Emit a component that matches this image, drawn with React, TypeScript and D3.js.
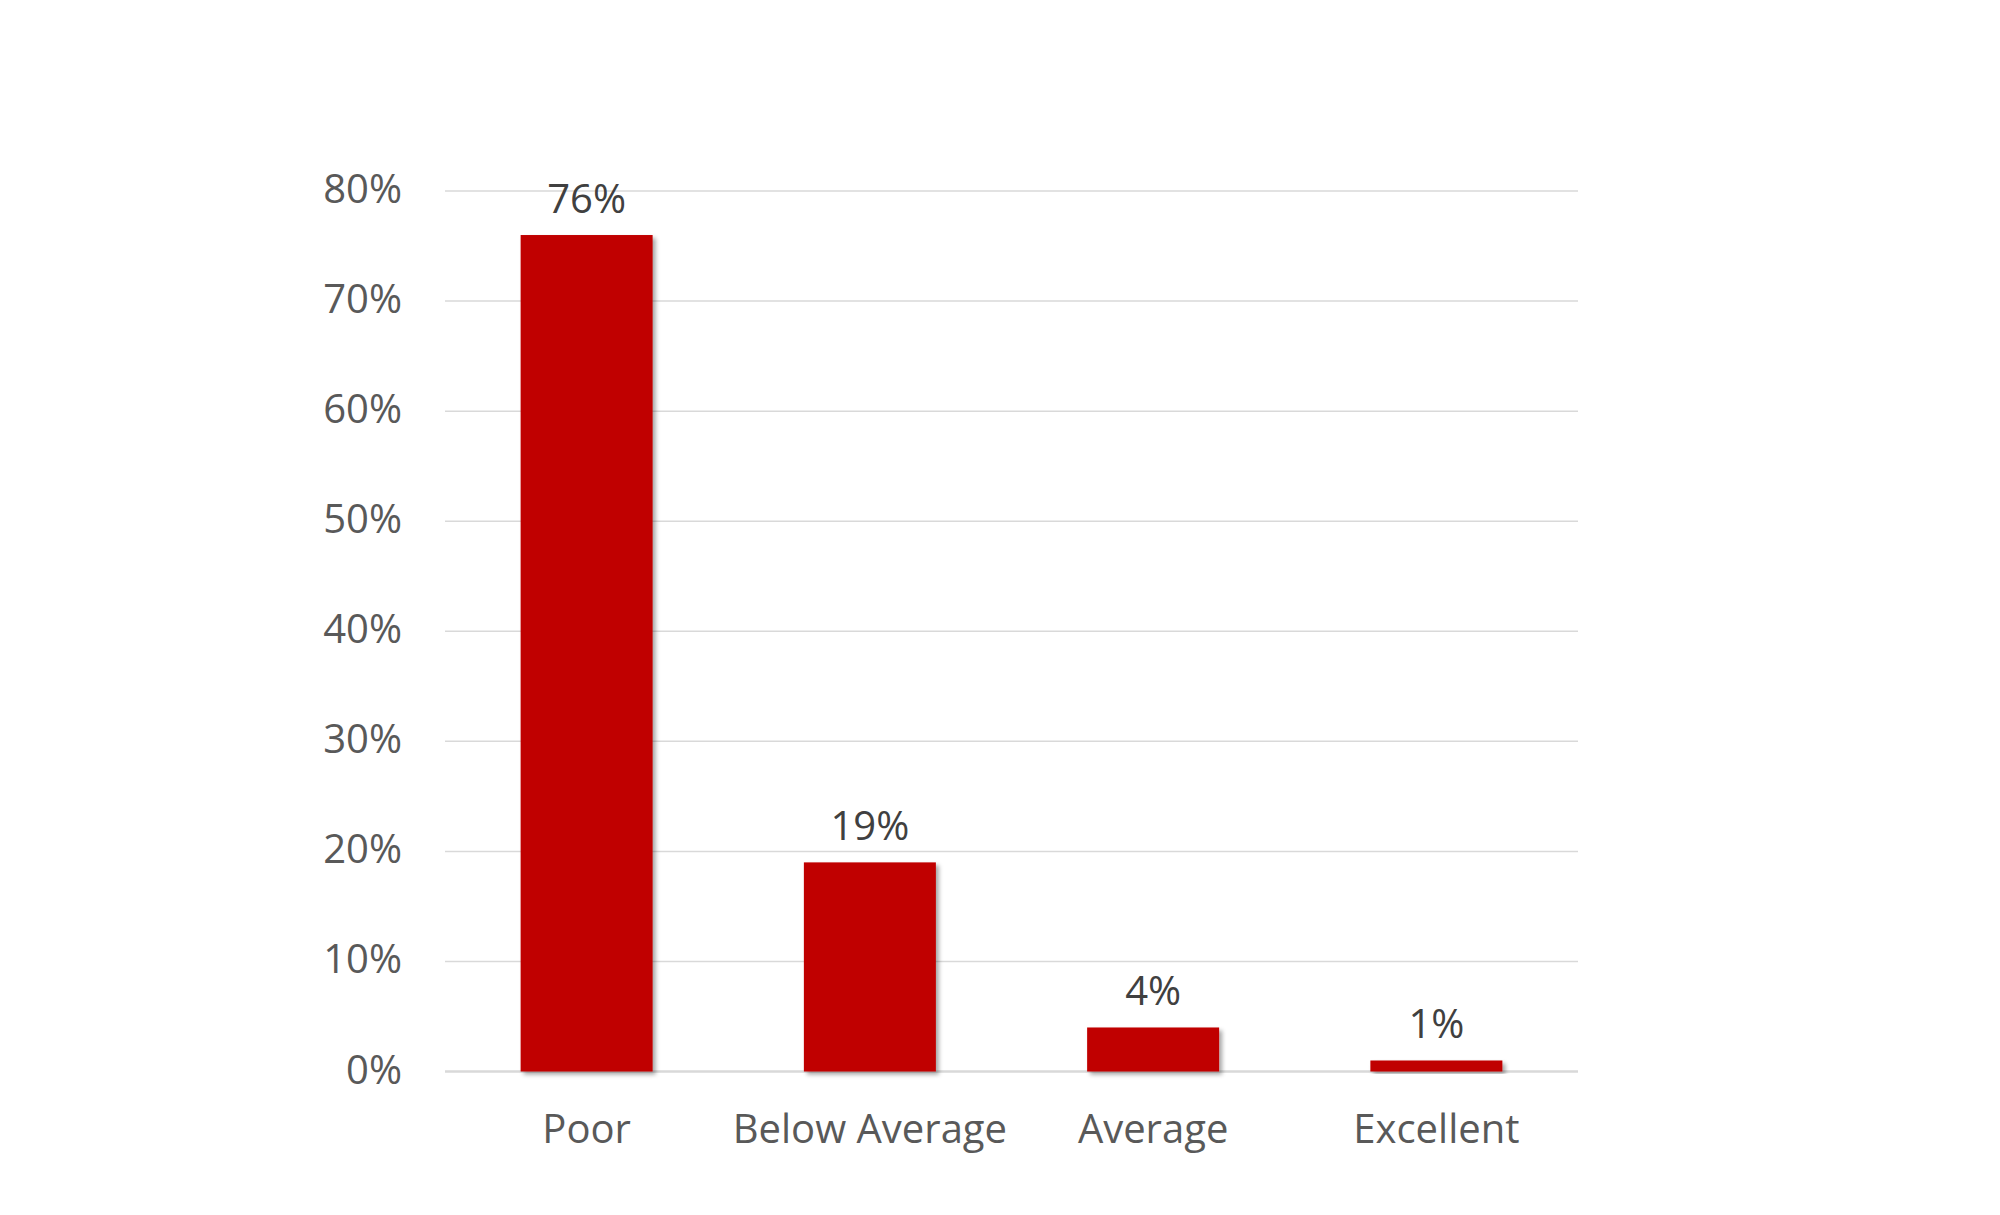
import { useEffect, useRef } from "react";
import * as d3 from "d3";

const categories = ["Poor", "Below Average", "Average", "Excellent"];
const values = [0.76, 0.19, 0.04, 0.01];
const yTicks = [0, 0.1, 0.2, 0.3, 0.4, 0.5, 0.6, 0.7, 0.8];

const WIDTH = 2000;
const HEIGHT = 1215;

export default function App() {
  const svgRef = useRef<SVGSVGElement>(null);

  useEffect(() => {
    if (!svgRef.current) return;
    const svg = d3.select(svgRef.current);
    svg.selectAll("*").remove();

    const left = 445;
    const right = 1578;
    const top = 191;
    const bottom = 1071.5;
    const font = "'Open Sans', 'Liberation Sans', sans-serif";

    const x = d3
      .scaleBand<string>()
      .domain(categories)
      .range([left, right])
      .paddingInner(0.534)
      .paddingOuter(0.267);

    const y = d3.scaleLinear().domain([0, 0.8]).range([bottom, top]);

    // Shadow filter
    const defs = svg.append("defs");
    const filter = defs
      .append("filter")
      .attr("id", "shadow")
      .attr("x", "-10%")
      .attr("y", "-10%")
      .attr("width", "130%")
      .attr("height", "130%");
    filter
      .append("feDropShadow")
      .attr("dx", 3)
      .attr("dy", 3)
      .attr("stdDeviation", 2)
      .attr("flood-color", "#000")
      .attr("flood-opacity", 0.35);

    // Gridlines
    svg
      .append("g")
      .selectAll("line")
      .data(yTicks)
      .enter()
      .append("line")
      .attr("x1", left)
      .attr("x2", right)
      .attr("y1", (d) => y(d))
      .attr("y2", (d) => y(d))
      .attr("stroke", "#d9d9d9")
      .attr("stroke-width", (d) => (d === 0 ? 2.5 : 1.5));

    // Y tick labels
    svg
      .append("g")
      .selectAll("text")
      .data(yTicks)
      .enter()
      .append("text")
      .attr("x", 402)
      .attr("y", (d) => y(d))
      .attr("dy", "0.3em")
      .attr("text-anchor", "end")
      .attr("font-family", font)
      .attr("font-size", "40px")
      .attr("fill", "#595959")
      .text((d) => d3.format(".0%")(d));

    // Bars
    svg
      .append("g")
      .selectAll("rect")
      .data(values)
      .enter()
      .append("rect")
      .attr("x", (_, i) => x(categories[i]) ?? 0)
      .attr("y", (d) => y(d))
      .attr("width", x.bandwidth())
      .attr("height", (d) => bottom - y(d))
      .attr("fill", "#c00000")
      .attr("filter", "url(#shadow)");

    // Data labels
    svg
      .append("g")
      .selectAll("text")
      .data(values)
      .enter()
      .append("text")
      .attr("x", (_, i) => (x(categories[i]) ?? 0) + x.bandwidth() / 2)
      .attr("y", (d) => y(d) - 22)
      .attr("text-anchor", "middle")
      .attr("font-family", font)
      .attr("font-size", "40px")
      .attr("fill", "#404040")
      .text((d) => d3.format(".0%")(d));

    // X labels
    svg
      .append("g")
      .selectAll("text")
      .data(categories)
      .enter()
      .append("text")
      .attr("x", (d) => (x(d) ?? 0) + x.bandwidth() / 2)
      .attr("y", 1143)
      .attr("text-anchor", "middle")
      .attr("font-family", font)
      .attr("font-size", "40px")
      .attr("fill", "#595959")
      .text((d) => d);
  }, []);

  return (
    <svg
      ref={svgRef}
      width={WIDTH}
      height={HEIGHT}
      style={{ position: "absolute", left: 0, top: 0, background: "#fff" }}
    />
  );
}
